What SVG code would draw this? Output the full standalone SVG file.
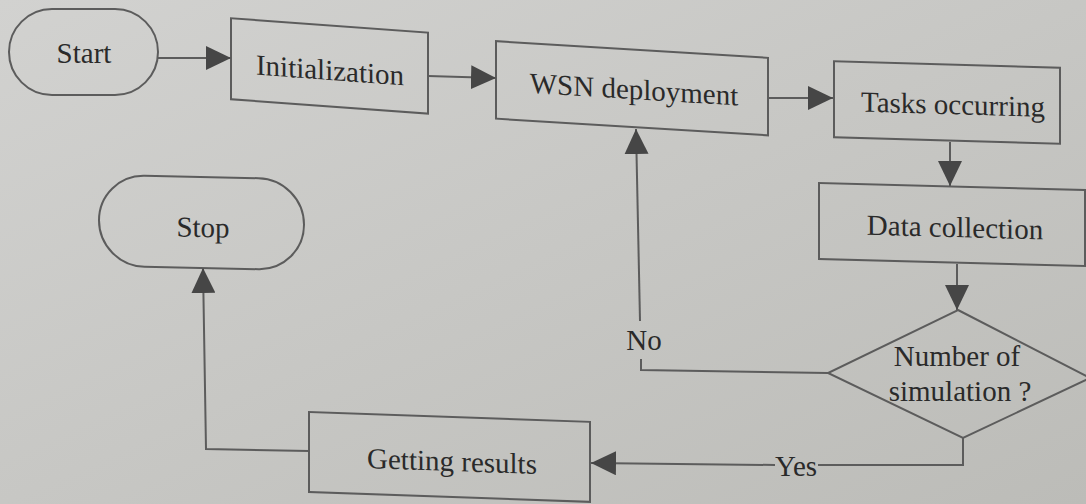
<svg xmlns="http://www.w3.org/2000/svg" width="1086" height="504" viewBox="0 0 1086 504">
  <defs>
    <linearGradient id="bg" x1="0" y1="0" x2="1" y2="1">
      <stop offset="0" stop-color="#d2d2d0"/>
      <stop offset="1" stop-color="#bcbcb8"/>
    </linearGradient>
    <marker id="arr" viewBox="0 0 25 24" refX="25" refY="12" markerWidth="25" markerHeight="24" markerUnits="userSpaceOnUse" orient="auto">
      <path d="M0,0 L25,12 L0,24 Z" fill="#464646"/>
    </marker>
  </defs>
  <style>
    .box { fill: none; stroke: #5c5c5c; stroke-width: 2; }
    .lbl { font-family: "Liberation Serif", "Times New Roman", serif; font-size: 29px; fill: #2a2a2a; text-anchor: middle; dominant-baseline: central; }
    .con { fill: none; stroke: #5c5c5c; stroke-width: 2; }
  </style>
  <rect x="0" y="0" width="1086" height="504" fill="url(#bg)"/>

  <g id="start">
    <rect class="box" x="9" y="9" width="149" height="86" rx="43" ry="43"/>
    <text class="lbl" x="84" y="53" font-size="31">Start</text>
  </g>

  <g id="initialization" transform="translate(330,0) skewY(4.2) translate(-330,0)">
    <rect class="box" x="231" y="25.5" width="197" height="81"/>
    <text class="lbl" x="330" y="70" font-size="30">Initialization</text>
  </g>

  <g id="wsn-deployment" transform="translate(632,0) skewY(3.5) translate(-632,0)">
    <rect class="box" x="496" y="49.5" width="272" height="77.5"/>
    <text class="lbl" x="634" y="89">WSN deployment</text>
  </g>

  <g id="tasks-occurring" transform="translate(947,0) skewY(1.6) translate(-947,0)">
    <rect class="box" x="834" y="64.5" width="226" height="76"/>
    <text class="lbl" x="953" y="104">Tasks occurring</text>
  </g>

  <g id="data-collection" transform="translate(952,0) skewY(1.5) translate(-952,0)">
    <rect class="box" x="819" y="186.5" width="266" height="76"/>
    <text class="lbl" x="955" y="227">Data collection</text>
  </g>

  <g id="decision">
    <polygon class="box" points="958,310 1090,378 963,438 828,373"/>
    <text class="lbl" x="957" y="356">Number of</text>
    <text class="lbl" x="960" y="391">simulation ?</text>
  </g>

  <g id="getting-results" transform="translate(450,0) skewY(2) translate(-450,0)">
    <rect class="box" x="309" y="417" width="281" height="80"/>
    <text class="lbl" x="452" y="461" font-size="30">Getting results</text>
  </g>

  <g id="stop" transform="translate(202,0) skewY(1.2) translate(-202,0)">
    <rect class="box" x="99" y="177" width="205" height="91" rx="45.5" ry="45.5"/>
    <text class="lbl" x="203" y="227">Stop</text>
  </g>

  <g id="connectors">
    <path class="con" d="M158,58 L231,58" marker-end="url(#arr)"/>
    <path class="con" d="M428,76 L496,78" marker-end="url(#arr)"/>
    <path class="con" d="M768,98 L833,98" marker-end="url(#arr)"/>
    <path class="con" d="M950,142 L950,186" marker-end="url(#arr)"/>
    <path class="con" d="M957,264 L957,310" marker-end="url(#arr)"/>
    <path class="con" d="M828,373 L641,370 L641,359"/>
    <path class="con" d="M640,321 L636,129" marker-end="url(#arr)"/>
    <text class="lbl" x="644" y="340">No</text>
    <path class="con" d="M963,438 L963,465 L818,465"/>
    <path class="con" d="M775,465 L591,463" marker-end="url(#arr)"/>
    <text class="lbl" x="796" y="466">Yes</text>
    <path class="con" d="M309,451 L206,449 L203,268" marker-end="url(#arr)"/>
  </g>
</svg>
